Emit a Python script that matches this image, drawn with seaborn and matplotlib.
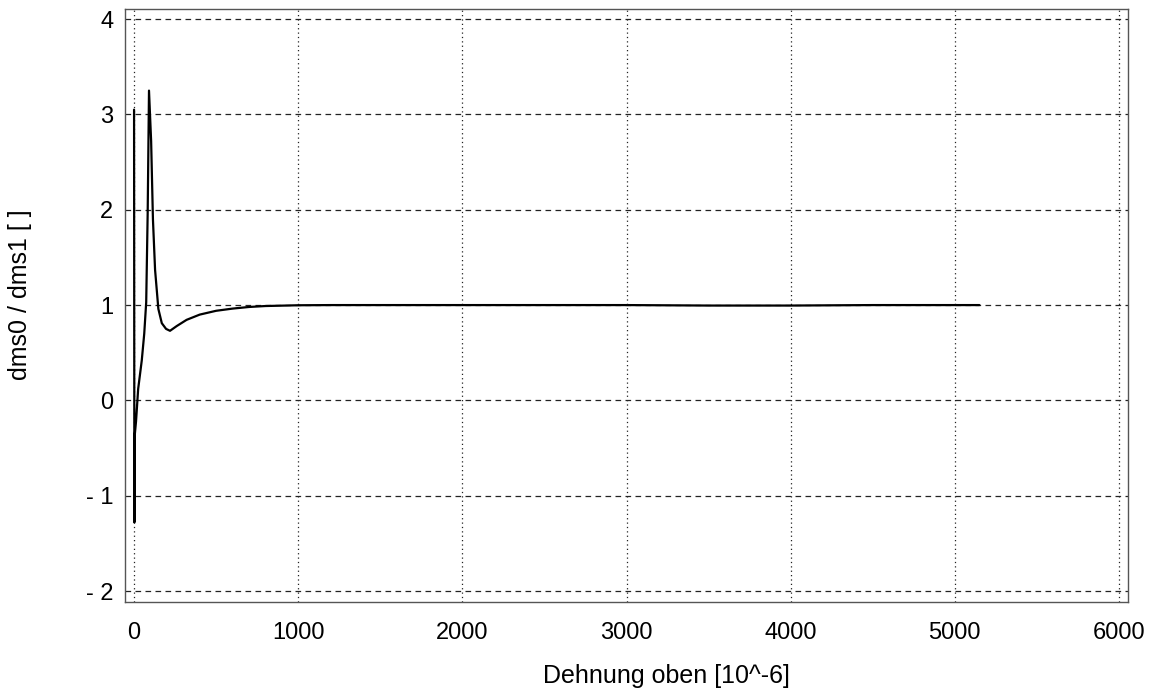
import matplotlib
matplotlib.use("Agg")
import matplotlib.pyplot as plt
import seaborn as sns
import pandas as pd

# Strain (top gauge) in 10^-6 and ratio of the two gauge signals
dehnung = [0, 2, 5, 12, 25, 47, 62, 74, 83, 91, 104, 115, 128, 148, 169,
           195, 219, 260, 320, 400, 500, 600, 700, 800, 1000, 1200,
           1500, 2000, 2500, 3000, 3500, 4000, 4500, 5000, 5150]
verhaeltnis = [3.05, -1.28, -0.35, -0.22, 0.12, 0.42, 0.70, 1.03, 1.97, 3.25,
               2.72, 1.90, 1.37, 0.96, 0.81, 0.75, 0.73, 0.78, 0.845,
               0.90, 0.94, 0.963, 0.98, 0.99, 0.998, 1.0,
               1.0, 1.0, 1.0, 1.0, 0.995, 0.995, 1.0, 1.0, 1.0]

x_ticks = [0, 1000, 2000, 3000, 4000, 5000, 6000]
y_ticks = [-2, -1, 0, 1, 2, 3, 4]
y_tick_labels = ["- 2", "- 1", "0", "1", "2", "3", "4"]

sns.set_style("white")
plt.rcParams["font.family"] = ["Liberation Sans", "DejaVu Sans"]

df = pd.DataFrame({"x": dehnung, "y": verhaeltnis})

fig = plt.figure(figsize=(11.74, 7.0), dpi=100)
ax = fig.add_axes([0.1065, 0.14, 0.8543, 0.847])

sns.lineplot(data=df, x="x", y="y", ax=ax, color="black", linewidth=1.6,
             sort=False, estimator=None)

ax.set_xlim(-55, 6055)
ax.set_ylim(-2.115, 4.105)
ax.set_xticks(x_ticks)
ax.set_xticklabels([str(v) for v in x_ticks])
ax.set_yticks(y_ticks)
ax.set_yticklabels(y_tick_labels)

# horizontal grid dashed, vertical grid dotted
for yv in y_ticks:
    ax.axhline(yv, color="#222222", linewidth=0.9, linestyle=(0, (4.5, 3.5)),
               zorder=0)
for xv in x_ticks:
    ax.axvline(xv, color="#222222", linewidth=0.9, linestyle=(0, (1, 2.5)),
               zorder=0)

for s in ax.spines.values():
    s.set_color("#555555")
    s.set_linewidth(1.0)

ax.tick_params(axis="both", direction="inout", length=9, width=1.0,
               color="#333333", labelsize=17, labelcolor="black")
ax.tick_params(axis="x", pad=10)
ax.tick_params(axis="y", pad=4)

ax.set_xlabel("Dehnung oben [10^-6]", fontsize=18, color="black")
ax.xaxis.set_label_coords(0.54, -0.105)
ax.set_ylabel("dms0 / dms1 [ ]", fontsize=18, color="black")
ax.yaxis.set_label_coords(-0.093, 0.518)

fig.savefig("out.png", dpi=100)
